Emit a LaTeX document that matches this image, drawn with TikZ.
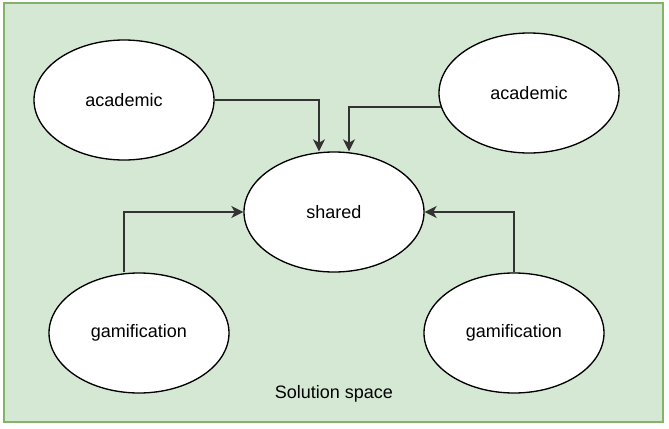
\documentclass[tikz,border=0pt]{standalone}
\usepackage{fontspec}
\setmainfont{Liberation Sans}
\usetikzlibrary{shapes.geometric, arrows.meta, positioning}
\definecolor{spacefill}{HTML}{D5E8D4}
\definecolor{spacedraw}{HTML}{82B366}
\definecolor{linkgray}{HTML}{333333}
\tikzset{
  space/.style={rectangle, draw=spacedraw, fill=spacefill, line width=1.5pt, inner sep=0},
  topic/.style={ellipse, draw=black, fill=white, line width=1pt, minimum width=135pt, minimum height=90pt, text centered, inner sep=0},
  link/.style={->, draw=linkgray, line width=1.1pt}
}

\begin{document}
\begin{tikzpicture}[x=0.75pt, y=-0.75pt, font=\fontsize{13.5}{16}\selectfont, >={Stealth[length=9pt, width=9pt, inset=2.5pt]}]
      \useasboundingbox (0, 0) rectangle (669, 429);
      \fill[white] (0, 0) rectangle (669, 429);
      \node[space, minimum width=494.6pt, minimum height=314.25pt](solution) at (333.25, 212.5){};
      \node(title) at (334, 394){Solution space};

      \node[topic](shared) at (334, 212){shared};
      \node[topic](acadL) at (124, 100){academic};
      \node[topic](acadR) at (529, 93){academic};
      \node[topic](gamL) at (139, 333){gamification};
      \node[topic](gamR) at (514, 333){gamification};

      \draw[link](acadL.east) -| ([xshift=-11.25pt]shared.north);
      \draw[link](acadR.189.8) -| ([xshift=11.25pt]shared.north);
      \draw[link]([xshift=-11.25pt]gamL.north) |- (shared.west);
      \draw[link](gamR.north) |- (shared.east);
    \end{tikzpicture}
\end{document}
